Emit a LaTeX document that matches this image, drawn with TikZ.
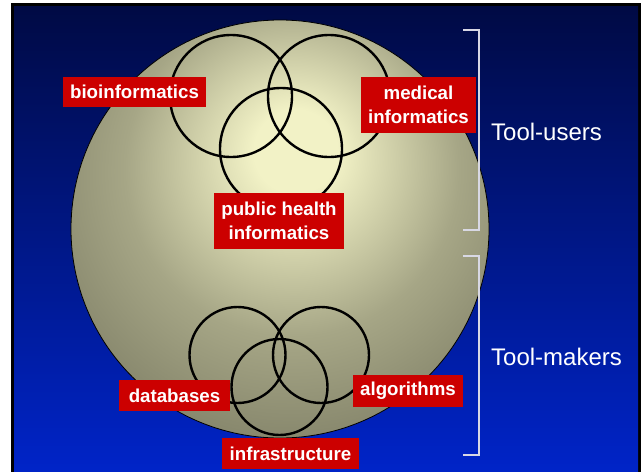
\documentclass[tikz,border=0pt]{standalone}
\usepackage{fontspec}
\setmainfont{Liberation Sans}
\definecolor{bgtop}{HTML}{000A44}
\definecolor{bgbot}{HTML}{0024C8}
\definecolor{labred}{HTML}{CC0000}
\definecolor{ballin}{HTML}{F2F2C6}
\definecolor{ballmid}{HTML}{A6A686}
\definecolor{ballout}{HTML}{6E6E58}
\definecolor{brk}{HTML}{D8D8E4}
\pgfdeclareradialshading{ballshade}{\pgfpoint{2bp}{10bp}}{%
  color(0bp)=(ballin); color(5bp)=(ballin); color(20bp)=(ballmid); color(40bp)=(ballout); color(70bp)=(ballout)}
\tikzset{
  lab/.style={fill=labred, text=white, inner sep=0pt, align=center,
    font=\bfseries\fontsize{18.7}{24}\selectfont},
  venn/.style={draw=black, line width=2.4pt},
  side/.style={text=white, font=\fontsize{24}{28}\selectfont, anchor=west, inner sep=0pt},
  bracket/.style={draw=brk, line width=1.3pt}
}
\begin{document}
\begin{tikzpicture}[x=1pt,y=-1pt]
\useasboundingbox (0,0) rectangle (641,472);
\fill[white] (0,0) rectangle (641,472);
\fill[black] (11,3) rectangle (641,472);
\shade[top color=bgtop, bottom color=bgbot] (14,6) rectangle (638,472);
% sphere
\shade[shading=ballshade, draw=black, line width=0.8pt] (280,229) circle[radius=209];
% top Venn circles
\draw[venn] (231,96) circle[radius=61];
\draw[venn] (329,96) circle[radius=61];
\draw[venn] (281,149) circle[radius=61];
% bottom Venn circles
\draw[venn] (237.5,355) circle[radius=48];
\draw[venn] (321,355) circle[radius=48];
\draw[venn] (279.5,387) circle[radius=48];
% labels
\node[lab, minimum width=143, minimum height=30] (bio) at (134.5,92) {bioinformatics};
\node[lab, minimum width=115, minimum height=56] (med) at (418.5,105) {medical\\informatics};
\node[lab, minimum width=130, minimum height=56] (pub) at (279,221) {public health\\informatics};
\node[lab, minimum width=111, minimum height=31] (db) at (174.5,395.5) {databases};
\node[lab, minimum width=110, minimum height=32] (alg) at (408,391) {algorithms};
\node[lab, minimum width=137, minimum height=31] (inf) at (290.5,453.5) {infrastructure};
% brackets
\coordinate (u1) at (463,30);
\coordinate (u2) at (479,30);
\coordinate (u3) at (479,230);
\coordinate (u4) at (463,230);
\draw[bracket] (u1) -- (u2) -- (u3) -- (u4);
\coordinate (m1) at (463,256);
\coordinate (m2) at (479,256);
\coordinate (m3) at (479,455);
\coordinate (m4) at (463,455);
\draw[bracket] (m1) -- (m2) -- (m3) -- (m4);
\node[side] (users) at (491,132) {Tool-users};
\node[side] (makers) at (491,357) {Tool-makers};
\end{tikzpicture}
\end{document}
